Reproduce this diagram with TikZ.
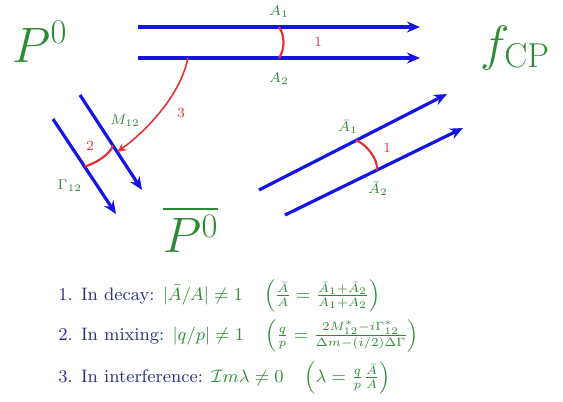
\documentclass[tikz,border=0pt]{standalone}
\usepackage{amsmath,amssymb}
\usetikzlibrary{arrows.meta}
\definecolor{Ray}{HTML}{1414E6}
\definecolor{Label}{HTML}{2E8B35}
\definecolor{Phase}{HTML}{E53238}
\definecolor{Navy}{HTML}{2B2B8C}
\tikzset{
  ray/.style={-{Stealth[length=6.5pt,width=5.5pt]},line width=1.6pt,color=Ray},
  phase/.style={color=Phase,line width=1.1pt},
  phasearrow/.style={color=Phase,line width=0.8pt,-{Stealth[length=4.5pt,width=4pt]}},
  state/.style={color=Label,font=\fontsize{23}{27}\selectfont,inner sep=0pt,anchor=base west},
  amp/.style={color=Label,font=\scriptsize,inner sep=1pt},
  num/.style={color=Phase,font=\scriptsize,inner sep=1pt},
  cond/.style={color=Navy,font=\small,anchor=base west,inner sep=0pt}
}

\begin{document}
\begin{tikzpicture}[x=0.5pt,y=-0.5pt]
  \useasboundingbox (0,0) rectangle (563,402);
  % states
  \node[state] (P) at (12,62) {$P^0$};
  \node[state] (fCP) at (480,60) {$f_{\mathrm{CP}}$};
  \node[state] (Pbar) at (163,252) {$\overline{P^0}$};
  % direct decay
  \coordinate (a1s) at (138,27); \coordinate (a1e) at (420,27);
  \coordinate (a2s) at (138,58); \coordinate (a2e) at (420,58);
  \draw[ray] (a1s) -- (a1e) coordinate[pos=0.5] (d1);
  \draw[ray] (a2s) -- (a2e) coordinate[pos=0.5] (d2) coordinate[pos=0.177] (d3);
  \node[amp] (A1) at (279,12) {$A_1$};
  \node[amp] (A2) at (279,79) {$A_2$};
  \draw[phase] (d1) .. controls +(6,9) and +(6,-9) .. (d2);
  \node[num] (n1) at (318,42) {1};
  % mixing
  \coordinate (gs) at (53,119); \coordinate (ge) at (116,214);
  \coordinate (ms) at (80,95); \coordinate (me) at (142,190);
  \draw[ray] (gs) -- (ge) coordinate[pos=0.5] (g1);
  \draw[ray] (ms) -- (me) coordinate[pos=0.53] (m1) coordinate[pos=0.6] (m2);
  \node[amp] (M12) at (125,121) {$M_{12}$};
  \node[amp] (G12) at (70,186) {$\Gamma_{12}$};
  \draw[phase] (m1) .. controls +(-2,9) and +(9,-2) .. (g1);
  \node[num] (n2) at (90,146) {2};
  % interference
  \draw[phasearrow] (d3) .. controls +(-8,40) and +(25,-18) .. (m2);
  \node[num] (n3) at (181,113) {3};
  % conjugate decay
  \coordinate (b1s) at (259,190); \coordinate (b1e) at (447,94);
  \coordinate (b2s) at (285,215); \coordinate (b2e) at (463,128);
  \draw[ray] (b1s) -- (b1e) coordinate[pos=0.516] (c1);
  \draw[ray] (b2s) -- (b2e) coordinate[pos=0.516] (c2);
  \node[amp] (B1) at (348,127) {$\bar A_1$};
  \node[amp] (B2) at (378,189) {$\bar A_2$};
  \draw[phase] (c1) .. controls +(10,3) and +(2,-10) .. (c2);
  \node[num] (n4) at (387,148) {1};
  % conditions
  \node[cond] (t1) at (58,300) {1. In decay: \textcolor{Label}{$|\bar A/A|\neq 1\quad
    \left(\frac{\bar A}{A}=\frac{\bar A_1+\bar A_2}{A_1+A_2}\right)$}};
  \node[cond] (t2) at (58,340) {2. In mixing: \textcolor{Label}{$|q/p|\neq 1\quad
    \left(\frac{q}{p}=\frac{2M_{12}^*-i\Gamma_{12}^*}{\Delta m-(i/2)\Delta\Gamma}\right)$}};
  \node[cond] (t3) at (58,382) {3. In interference: \textcolor{Label}{$\mathcal{I}m\lambda\neq 0\quad
    \left(\lambda=\frac{q}{p}\frac{\bar A}{A}\right)$}};
\end{tikzpicture}
\end{document}
